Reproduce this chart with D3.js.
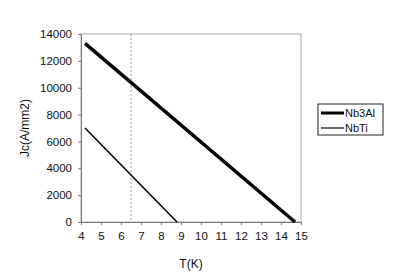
<!DOCTYPE html>
<meta charset="utf-8">
<script src="https://d3js.org/d3.v7.min.js"></script>
<style>
  body { margin: 0; background: #fff; }
  text { font-family: "Liberation Sans", Arial, sans-serif; fill: #111; }
</style>
<div id="my_dataviz"></div>
<script>

// data
var nb3alT = [4.2, 14.7],
    nb3alJc = [13300, 0];
var nbtiT = [4.2, 8.8],
    nbtiJc = [7000, 0];
var markerT = 6.5;
var xTicks = [4, 5, 6, 7, 8, 9, 10, 11, 12, 13, 14, 15];
var yTicks = [0, 2000, 4000, 6000, 8000, 10000, 12000, 14000];
var seriesNames = ["Nb3Al", "NbTi"];

var margin = {top: 34, right: 101, bottom: 58, left: 81},
    width = 402 - margin.left - margin.right,
    height = 280 - margin.top - margin.bottom;

var svg = d3.select("#my_dataviz")
  .append("svg")
    .attr("width", 402)
    .attr("height", 280)
  .append("g")
    .attr("transform", "translate(" + margin.left + "," + margin.top + ")");

var x = d3.scaleLinear().domain([4, 15]).range([0, width]);
var y = d3.scaleLinear().domain([0, 14000]).range([height, 0]);

// plot frame
svg.append("rect")
  .attr("width", width).attr("height", height)
  .attr("fill", "none").attr("stroke", "#aaa").attr("stroke-width", 1);

// dotted marker line
svg.append("line")
  .attr("x1", x(markerT)).attr("x2", x(markerT))
  .attr("y1", 0).attr("y2", height)
  .attr("stroke", "#999").attr("stroke-width", 1)
  .attr("stroke-dasharray", "2,2");

// axes
var xAxis = svg.append("g")
  .attr("transform", "translate(0," + height + ")")
  .call(d3.axisBottom(x).tickValues(xTicks).tickSize(3).tickPadding(7).tickFormat(d3.format("d")));
var yAxis = svg.append("g")
  .call(d3.axisLeft(y).tickValues(yTicks).tickSize(3).tickPadding(6).tickFormat(d3.format("d")));
[xAxis, yAxis].forEach(function(a) {
  a.select(".domain").attr("stroke", "#777");
  a.selectAll(".tick line").attr("stroke", "#777");
  a.selectAll(".tick text").style("font-size", "11.5px").attr("fill", "#111")
    .style("font-family", "'Liberation Sans', Arial, sans-serif");
});

// lines
var line = d3.line().x(function(d) { return x(d[0]) }).y(function(d) { return y(d[1]) });
svg.append("path")
  .datum(d3.zip(nb3alT, nb3alJc))
  .attr("fill", "none").attr("stroke", "#000").attr("stroke-width", 3.5)
  .attr("d", line);
svg.append("path")
  .datum(d3.zip(nbtiT, nbtiJc))
  .attr("fill", "none").attr("stroke", "#000").attr("stroke-width", 1.5)
  .attr("d", line);

// axis titles
svg.append("text")
  .attr("x", width / 2).attr("y", height + 46)
  .attr("text-anchor", "middle").style("font-size", "12px")
  .text("T(K)");
svg.append("text")
  .attr("transform", "translate(" + (-52) + "," + (height / 2) + ") rotate(-90)")
  .attr("text-anchor", "middle").style("font-size", "12px")
  .text("Jc(A/mm2)");

// legend
var legend = svg.append("g").attr("transform", "translate(" + (318 - margin.left) + "," + (104 - margin.top) + ")");
legend.append("rect")
  .attr("width", 65).attr("height", 31)
  .attr("fill", "#fff").attr("stroke", "#222").attr("stroke-width", 1);
var widths = [3, 1.2];
seriesNames.forEach(function(name, i) {
  var yy = 9 + i * 15;
  legend.append("line")
    .attr("x1", 3).attr("x2", 26).attr("y1", yy).attr("y2", yy)
    .attr("stroke", "#000").attr("stroke-width", widths[i]);
  legend.append("text")
    .attr("x", 27).attr("y", yy + 4)
    .style("font-size", "11px")
    .text(name);
});

</script>
